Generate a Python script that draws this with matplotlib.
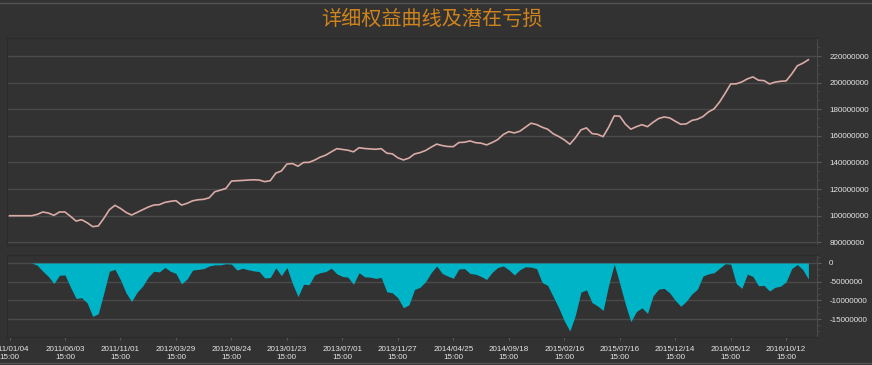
import matplotlib
matplotlib.use('Agg')
import matplotlib.pyplot as plt
from matplotlib.ticker import FuncFormatter, MultipleLocator, AutoMinorLocator
import numpy as np

# equity curve, in millions, one value per step
equity = [100, 100, 100, 100, 100, 101, 102.8, 102, 100.3, 102.8,
          102.8, 99.5, 96, 97, 94.7, 91.8, 92.3, 98, 104.5, 107.8,
          105.5, 102.5, 100.5, 102.5, 104.5, 106.5, 108, 108.3, 110, 110.8,
          111.3, 108, 109.3, 111.2, 112, 112.3, 113.5, 118, 119.2, 120.5,
          126, 126.3, 126.5, 126.8, 127, 126.8, 125.6, 126.3, 132, 133.6,
          138.8, 139.2, 137.2, 140, 140.1, 141.8, 144, 145.5, 148, 150.4,
          149.8, 149.2, 148, 151.1, 150.5, 150.2, 149.9, 150.4, 147, 146.5,
          143.5, 141.9, 143.3, 146.4, 147.4, 149, 151.5, 153.8, 152.7, 152,
          151.9, 155, 155.2, 156.2, 154.9, 154.5, 153.2, 155, 157.2, 161,
          163.2, 162.2, 163.5, 166.5, 169.5, 168.5, 166.5, 165, 161.6, 159.5,
          157, 153.7, 158.5, 164.5, 166, 161.7, 161.2, 159.4, 166.5, 175,
          174.8, 168.9, 165, 166.9, 168.4, 166.9, 170.2, 173, 174.2, 173.5,
          171, 168.7, 169, 171.6, 172.5, 174.5, 178, 180.3, 185.5, 192,
          199, 199.1, 200.5, 202.8, 204.3, 201.8, 201.5, 199, 200.4, 201,
          201.3, 206.5, 212.6, 214.6, 217.2]

# potential loss (drawdown), in millions
drawdown = [0, 0, 0, 0, 0, -0.6, -2.2, -3.6, -5.5, -3.3,
            -3.2, -6.5, -9.5, -9.3, -10.7, -14.3, -13.6, -8, -2.2, -1.7,
            -4.5, -8, -10.3, -7.8, -6.2, -3.8, -2.2, -2.4, -1.2, -2.2,
            -2.8, -5.6, -4.3, -1.9, -1.7, -1.5, -0.8, -0.5, -0.5, -0.2,
            -0.3, -1.9, -1.4, -1.8, -2.1, -2.3, -4, -3.9, -1.3, -3.4,
            -1.2, -5.5, -9, -5.7, -5.8, -3.2, -2.6, -2.3, -1.4, -2.9,
            -3.6, -3.8, -5.7, -2.6, -3.7, -3.8, -4.1, -3.9, -7.7, -8,
            -9.3, -12, -11.2, -7.1, -6.5, -5, -2.6, -0.8, -2.8, -3.5,
            -4.1, -1.6, -1.5, -2.8, -3, -3.6, -4.4, -2.5, -1.2, -0.8,
            -1.8, -3.2, -1.8, -1, -1.1, -1.5, -5.2, -6, -9, -12,
            -15.5, -18.2, -14, -7.8, -7.2, -10.6, -11.5, -12.7, -5.9, -0.3,
            -5.5, -11, -15.7, -13, -12, -13.5, -8.8, -7, -6.8, -8,
            -10, -11.6, -10.2, -8.3, -7, -3.5, -2.9, -2.6, -1.4, -0.2,
            -0.3, -5.5, -6.8, -3, -3.6, -6.1, -6, -7.5, -6.5, -6.2,
            -5, -1.5, -0.4, -1.8, -4.3]

tick_dates = ['2011/01/04', '2011/06/03', '2011/11/01', '2012/03/29', '2012/08/24',
              '2013/01/23', '2013/07/01', '2013/11/27', '2014/04/25', '2014/09/18',
              '2015/02/16', '2015/07/16', '2015/12/14', '2016/05/12', '2016/10/12']
tick_step = 10

bg = '#323232'
grid_c = '#4a4a4a'
label_c = '#e6e6e6'

plt.rcParams['font.family'] = ['Liberation Sans', 'DejaVu Sans']
plt.rcParams['axes.unicode_minus'] = False

x = np.arange(len(equity))
eq = np.array(equity) * 1e6
dd = np.array(drawdown) * 1e6

fig = plt.figure(figsize=(8.72, 3.65), dpi=100, facecolor=bg)
ax1 = fig.add_axes([7.3 / 872, 1 - 245 / 365, (816.7 - 7.3) / 872, (245 - 38.3) / 365])
ax2 = fig.add_axes([7.3 / 872, 1 - 337.3 / 365, (816.7 - 7.3) / 872, (337.3 - 255) / 365])

ax1.plot(x, eq, color='#d9aaa6', lw=1.2, zorder=3)
ax2.fill_between(x, dd, 0, color='#00b4c8', lw=0, zorder=3)

fmt = FuncFormatter(lambda v, p: '%d' % v)
for ax in (ax1, ax2):
    ax.set_facecolor(bg)
    ax.set_xlim(-0.4, 145.5)
    ax.yaxis.tick_right()
    ax.yaxis.set_major_formatter(fmt)
    ax.grid(axis='y', color=grid_c, lw=1)
    ax.set_axisbelow(True)
    for s in ('top', 'left', 'bottom'):
        ax.spines[s].set_color('#2a2a2a')
    ax.spines['right'].set_color('#4a4a4a')
    ax.tick_params(axis='y', colors='#5a5a5a', labelcolor=label_c, labelsize=5.8,
                   length=3, pad=6)
    ax.tick_params(axis='y', which='minor', colors='#4a4a4a', length=2)
    ax.tick_params(axis='x', colors='#5a5a5a', labelcolor=label_c, labelsize=5.8,
                   length=2, pad=4)
    for lab in ax.get_yticklabels():
        lab.set_horizontalalignment('left')

ax1.set_ylim(78e6, 233.3e6)
ax1.yaxis.set_major_locator(MultipleLocator(20e6))
ax1.yaxis.set_minor_locator(AutoMinorLocator(3))
ax1.set_xticks([])

ax2.set_ylim(-19.9e6, 2.14e6)
ax2.yaxis.set_major_locator(MultipleLocator(5e6))
ax2.yaxis.set_minor_locator(AutoMinorLocator(3))
ticks = np.arange(len(tick_dates)) * tick_step
ax2.set_xticks(ticks)
ax2.set_xticklabels([d + '\n15:00' for d in tick_dates], linespacing=1.35)

fig.text(0.495, 0.948, '详细权益曲线及潜在亏损', ha='center', va='center',
         fontsize=14.5, color='#cf831c',
         family=['Noto Sans CJK SC', 'DejaVu Sans'])

# thin frame lines at the top and bottom of the picture
fig.add_artist(plt.Line2D([0, 1], [1 - 2.5 / 365, 1 - 2.5 / 365], color='#555555', lw=1))
fig.add_artist(plt.Line2D([0, 1], [2.5 / 365, 2.5 / 365], color='#555555', lw=1))

fig.savefig('out.png', dpi=100, facecolor=bg)
